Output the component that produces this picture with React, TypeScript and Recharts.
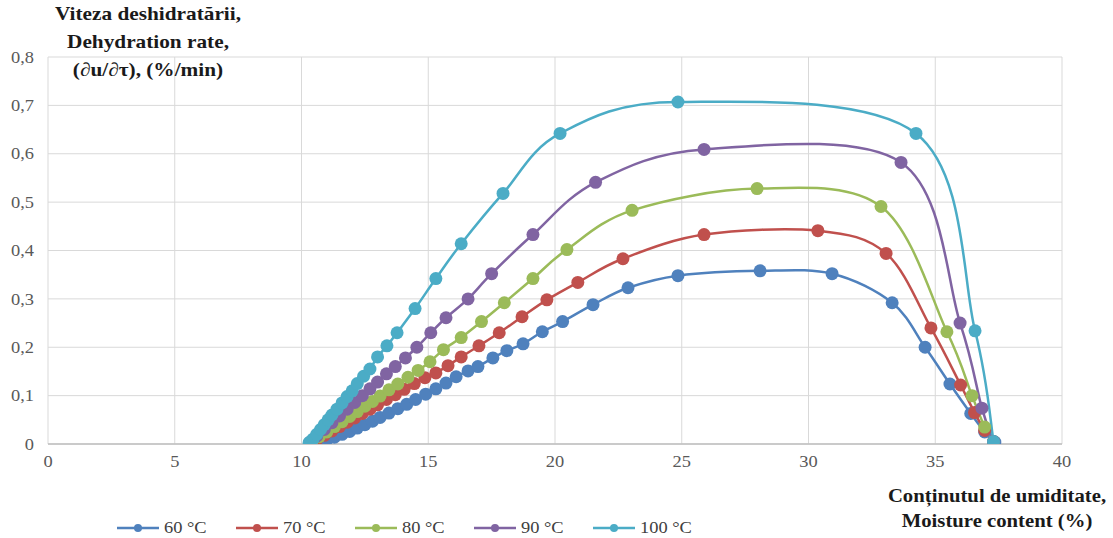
import { LineChart, Line, XAxis, YAxis, CartesianGrid, Legend } from "recharts"

// moisture content (%) and dehydration rate (%/min)
const x60 = [10.4, 10.7, 11.0, 11.3, 11.6, 11.9, 12.2, 12.5, 12.8, 13.1, 13.45, 13.8, 14.15, 14.5, 14.9, 15.3, 15.7, 16.1, 16.57, 16.96, 17.55, 18.1, 18.74, 19.5, 20.3, 21.5, 22.88, 24.85, 28.09, 30.93, 33.3, 34.6, 35.58, 36.4, 36.95, 37.35]
const y60 = [0.001, 0.004, 0.009, 0.014, 0.02, 0.026, 0.033, 0.04, 0.047, 0.055, 0.064, 0.073, 0.082, 0.092, 0.103, 0.114, 0.126, 0.139, 0.151, 0.16, 0.178, 0.193, 0.207, 0.232, 0.253, 0.288, 0.323, 0.348, 0.358, 0.352, 0.292, 0.2, 0.124, 0.063, 0.025, 0.004]

const x70 = [10.35, 10.6, 10.9, 11.2, 11.5, 11.8, 12.1, 12.4, 12.7, 13.0, 13.35, 13.7, 14.05, 14.45, 14.87, 15.3, 15.78, 16.3, 17.0, 17.8, 18.7, 19.68, 20.9, 22.68, 25.88, 30.37, 33.06, 34.83, 36.0, 36.55, 36.95, 37.3]
const y70 = [0.002, 0.009, 0.018, 0.027, 0.036, 0.045, 0.054, 0.063, 0.072, 0.081, 0.092, 0.102, 0.113, 0.125, 0.137, 0.147, 0.162, 0.18, 0.203, 0.23, 0.263, 0.298, 0.334, 0.383, 0.433, 0.441, 0.394, 0.24, 0.122, 0.065, 0.028, 0.004]

const x80 = [10.4, 10.7, 11.0, 11.3, 11.6, 11.9, 12.2, 12.5, 12.8, 13.1, 13.45, 13.8, 14.2, 14.6, 15.07, 15.6, 16.3, 17.1, 18.0, 19.13, 20.47, 23.04, 27.97, 32.86, 35.46, 36.45, 36.95, 37.3]
const y80 = [0.004, 0.015, 0.025, 0.036, 0.046, 0.057, 0.067, 0.078, 0.088, 0.099, 0.112, 0.124, 0.138, 0.152, 0.17, 0.195, 0.22, 0.253, 0.292, 0.342, 0.402, 0.483, 0.528, 0.491, 0.232, 0.1, 0.035, 0.005]

const x90 = [10.35, 10.6, 10.9, 11.2, 11.5, 11.8, 12.1, 12.4, 12.7, 13.0, 13.35, 13.7, 14.1, 14.55, 15.1, 15.7, 16.57, 17.5, 19.13, 21.6, 25.88, 33.65, 35.98, 36.84, 37.3]
const y90 = [0.004, 0.016, 0.03, 0.044, 0.058, 0.072, 0.086, 0.1, 0.114, 0.128, 0.145, 0.16, 0.178, 0.2, 0.23, 0.261, 0.3, 0.352, 0.433, 0.541, 0.609, 0.582, 0.25, 0.074, 0.005]

const x100 = [10.3, 10.45, 10.6, 10.75, 10.9, 11.05, 11.2, 11.4, 11.6, 11.8, 12.0, 12.2, 12.45, 12.7, 13.0, 13.37, 13.77, 14.48, 15.3, 16.3, 17.95, 20.2, 24.85, 34.24, 36.57, 37.3]
const y100 = [0.003, 0.01, 0.02, 0.03, 0.04, 0.05, 0.06, 0.072, 0.085, 0.098, 0.11, 0.125, 0.14, 0.155, 0.18, 0.203, 0.23, 0.28, 0.342, 0.414, 0.518, 0.642, 0.707, 0.642, 0.234, 0.005]

const xTicks = [0, 5, 10, 15, 20, 25, 30, 35, 40]
const yTicks = [0, 0.1, 0.2, 0.3, 0.4, 0.5, 0.6, 0.7, 0.8]

const toPoints = (xs: number[], ys: number[]) => xs.map((x, i) => ({ x, y: ys[i] }))

const series = [
  { name: "60 °C", color: "#4F81BD", data: toPoints(x60, y60) },
  { name: "70 °C", color: "#C0504D", data: toPoints(x70, y70) },
  { name: "80 °C", color: "#9BBB59", data: toPoints(x80, y80) },
  { name: "90 °C", color: "#8064A2", data: toPoints(x90, y90) },
  { name: "100 °C", color: "#4BACC6", data: toPoints(x100, y100) },
]

const serif = '"Liberation Serif", "Times New Roman", serif'

// smoothing close to what the spreadsheet does (Catmull-Rom as Bezier)
const smoothCurve = (context: any) => {
  let pts: number[][] = []
  return {
    areaStart() {},
    areaEnd() {},
    lineStart() {
      pts = []
    },
    point(x: number, y: number) {
      pts.push([+x, +y])
    },
    lineEnd() {
      const n = pts.length
      if (!n) return
      context.moveTo(pts[0][0], pts[0][1])
      for (let i = 0; i < n - 1; i++) {
        const p0 = pts[Math.max(i - 1, 0)]
        const p1 = pts[i]
        const p2 = pts[i + 1]
        const p3 = pts[Math.min(i + 2, n - 1)]
        context.bezierCurveTo(
          p1[0] + (p2[0] - p0[0]) / 6,
          p1[1] + (p2[1] - p0[1]) / 6,
          p2[0] - (p3[0] - p1[0]) / 6,
          p2[1] - (p3[1] - p1[1]) / 6,
          p2[0],
          p2[1]
        )
      }
    },
  }
}

// the source picture is a bit stretched sideways, so text gets a scaleX
const XTick = ({ x, y, payload }: any) => (
  <text
    transform={`translate(${x},${y}) scale(1.15,1)`}
    textAnchor="middle"
    dy="0.71em"
    fontFamily={serif}
    fontSize={16}
    fill="#595959"
  >
    {payload.value}
  </text>
)

const YTick = ({ x, y, payload }: any) => (
  <text
    transform={`translate(${x},${y}) scale(1.15,1)`}
    textAnchor="end"
    dy="0.355em"
    fontFamily={serif}
    fontSize={16}
    fill="#595959"
  >
    {payload.value === 0 ? "0" : payload.value.toFixed(1).replace(".", ",")}
  </text>
)

const renderLegend = () => (
  <div style={{ display: "flex", fontFamily: serif, fontSize: 16, color: "#404040" }}>
    {series.map((s) => (
      <div key={s.name} style={{ display: "flex", alignItems: "center", width: 119 }}>
        <svg width={44} height={14}>
          <line x1={1} y1={7} x2={43} y2={7} stroke={s.color} strokeWidth={2.5} />
          <circle cx={22} cy={7} r={4} fill={s.color} />
        </svg>
        <span style={{ marginLeft: 4, display: "inline-block", transform: "scaleX(1.15)", transformOrigin: "left" }}>
          {s.name}
        </span>
      </div>
    ))}
  </div>
)

const titleStyle = {
  position: "absolute" as const,
  textAlign: "center" as const,
  fontFamily: serif,
  fontWeight: "bold" as const,
  color: "#1a1a1a",
  transform: "scaleX(1.12)",
}

export default function App() {
  return (
    <div style={{ position: "absolute", left: 0, top: 0, width: 1113, height: 538, background: "#fff" }}>
      <LineChart width={1113} height={538} margin={{ top: 57, right: 51, left: 8, bottom: 48 }}>
        <CartesianGrid stroke="#d9d9d9" strokeWidth={1} />
        <XAxis
          type="number"
          dataKey="x"
          domain={[0, 40]}
          ticks={xTicks}
          allowDataOverflow
          height={30}
          tickLine={false}
          tickSize={0}
          tickMargin={12}
          axisLine={{ stroke: "#bfbfbf", strokeWidth: 1.5 }}
          tick={<XTick />}
        />
        <YAxis
          type="number"
          dataKey="y"
          domain={[0, 0.8]}
          ticks={yTicks}
          allowDataOverflow
          width={40}
          axisLine={false}
          tickLine={false}
          tickSize={0}
          tickMargin={14}
          tick={<YTick />}
        />
        {series.map((s) => (
          <Line
            key={s.name}
            data={s.data}
            dataKey="y"
            name={s.name}
            type={smoothCurve as any}
            stroke={s.color}
            strokeWidth={2.5}
            dot={{ r: 6.5, fill: s.color, stroke: s.color, strokeWidth: 0 }}
            activeDot={false}
            isAnimationActive={false}
          />
        ))}
        <Legend
          content={renderLegend}
          wrapperStyle={{ position: "absolute", left: 116, top: 519, width: 640, height: 16 }}
        />
      </LineChart>
      <div style={{ ...titleStyle, left: 48, top: 0, width: 200, fontSize: 19, lineHeight: "28px" }}>
        Viteza deshidratării,
        <br />
        Dehydration rate,
        <br />
        (∂u/∂τ), (%/min)
      </div>
      <div style={{ ...titleStyle, left: 887, top: 484, width: 220, fontSize: 18.5, lineHeight: "25px" }}>
        Conținutul de umiditate,
        <br />
        Moisture content (%)
      </div>
    </div>
  )
}
